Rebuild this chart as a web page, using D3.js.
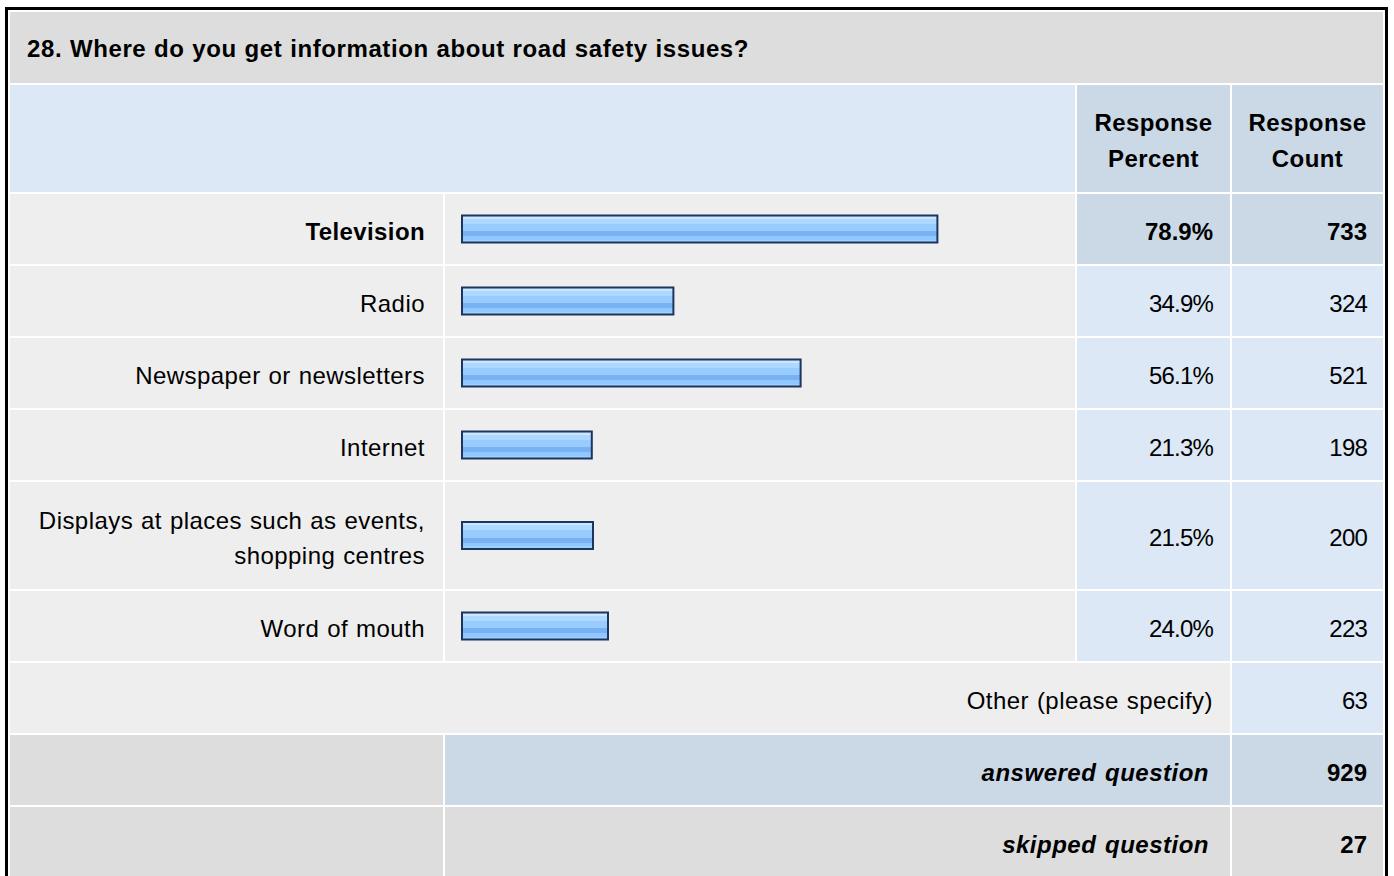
<!DOCTYPE html>
<html>
<head>
<meta charset="utf-8">
<script src="https://cdn.jsdelivr.net/npm/d3@7"></script>
<style>
  body { margin: 0; background: #fff; }
  svg { display: block; font-family: "Liberation Sans", Arial, sans-serif; }
</style>
</head>
<body>
<div id="chart"></div>
<script>
var width = 1394;
var height = 876;

var question = "28. Where do you get information about road safety issues?";
var answers = ["Television", "Radio", "Newspaper or newsletters", "Internet",
  "Displays at places such as events, shopping centres", "Word of mouth"];
var percents = [78.9, 34.9, 56.1, 21.3, 21.5, 24.0];
var counts = [733, 324, 521, 198, 200, 223];
var otherLabel = "Other (please specify)";
var otherCount = 63;
var answeredCount = 929;
var skippedCount = 27;

// column edges
var col = {
  label: [10, 443],
  bar: [445, 1075],
  pct: [1077, 1230],
  cnt: [1232, 1383]
};
var gap = 2;
var fs = 24;
var ls = 0.45;
var ws = 0.8;

var svg = d3.select("#chart").append("svg")
  .attr("width", width)
  .attr("height", height);

var defs = svg.append("defs");
var grad = defs.append("linearGradient")
  .attr("id", "barfill")
  .attr("x1", 0).attr("y1", 0).attr("x2", 0).attr("y2", 1);
[[0, "#cbe6ff"], [0.12, "#cbe6ff"], [0.12, "#aed8ff"], [0.3, "#aed8ff"],
 [0.3, "#98ccff"], [0.58, "#98ccff"], [0.58, "#78b2f2"], [0.76, "#78b2f2"],
 [0.76, "#8fc7ff"], [0.9, "#8fc7ff"], [0.9, "#9dd0ff"], [1, "#9dd0ff"]]
  .forEach(function(s) {
    grad.append("stop").attr("offset", s[0]).attr("stop-color", s[1]);
  });

var x = d3.scaleLinear().domain([0, 100]).range([0, 600]);

function cell(x0, x1, y, h, fill) {
  svg.append("rect")
    .attr("x", x0).attr("y", y)
    .attr("width", x1 - x0).attr("height", h)
    .attr("fill", fill);
}

function label(str, xPos, yMid, opts) {
  opts = opts || {};
  var lines = opts.lines || [str];
  var lh = opts.lh || 35;
  var off = opts.off != null ? opts.off : 10.5;
  var t = svg.append("text")
    .attr("x", xPos)
    .attr("text-anchor", opts.anchor || "end")
    .attr("font-size", fs)
    .attr("letter-spacing", opts.ls != null ? opts.ls : ls)
    .attr("word-spacing", opts.ws != null ? opts.ws : ws)
    .attr("font-weight", opts.bold ? "bold" : "normal")
    .attr("font-style", opts.italic ? "italic" : "normal")
    .attr("fill", "#000");
  lines.forEach(function(l, i) {
    t.append("tspan")
      .attr("x", xPos)
      .attr("y", yMid + off + (i - (lines.length - 1) / 2) * lh)
      .text(l);
  });
  return t;
}

// numbers: bold ones keep normal tracking, regular ones are a bit tighter
function num(str, xPos, yMid, bold) {
  return label(str, xPos, yMid, { bold: bold, ls: bold ? 0 : -0.8 });
}

// wrap long label into lines no wider than maxW
function wrapText(str, maxW) {
  var probe = svg.append("text").attr("font-size", fs)
    .attr("letter-spacing", ls).attr("word-spacing", ws);
  var words = str.split(" "), lines = [], cur = "";
  words.forEach(function(w) {
    var test = cur ? cur + " " + w : w;
    probe.text(test);
    if (probe.node().getComputedTextLength() > maxW && cur) {
      lines.push(cur);
      cur = w;
    } else {
      cur = test;
    }
  });
  lines.push(cur);
  probe.remove();
  return lines;
}

// outer frame
svg.append("rect")
  .attr("x", 6.5).attr("y", 8.5)
  .attr("width", 1380).attr("height", 900)
  .attr("fill", "none")
  .attr("stroke", "#000")
  .attr("stroke-width", 3);

var y = 12;

// title
cell(col.label[0], col.cnt[1], y, 71, "#dddddd");
label(question, 27, y + 35, { anchor: "start", bold: true, ls: 0.6, ws: 0.5, off: 10 });
y += 71 + gap;

// header
var hh = 107;
cell(col.label[0], col.bar[1], y, hh, "#dce8f5");
cell(col.pct[0], col.pct[1], y, hh, "#cbd8e6");
cell(col.cnt[0], col.cnt[1], y, hh, "#cbd8e6");
label("", (col.pct[0] + col.pct[1]) / 2, y + hh / 2,
  { anchor: "middle", bold: true, lines: ["Response", "Percent"], lh: 36, ls: 0.4 });
label("", (col.cnt[0] + col.cnt[1]) / 2, y + hh / 2,
  { anchor: "middle", bold: true, lines: ["Response", "Count"], lh: 36, ls: 0.4 });
y += hh + gap;

// answer rows
answers.forEach(function(a, i) {
  var lines = wrapText(a, 405);
  var h = lines.length > 1 ? 107 : 70;
  var first = i === 0;
  var mid = y + h / 2;
  cell(col.label[0], col.label[1], y, h, "#eeeeee");
  cell(col.bar[0], col.bar[1], y, h, "#eeeeee");
  cell(col.pct[0], col.pct[1], y, h, first ? "#cbd8e6" : "#dce8f5");
  cell(col.cnt[0], col.cnt[1], y, h, first ? "#cbd8e6" : "#dce8f5");
  label(a, col.label[1] - 18, mid,
    { bold: first, lines: lines, lh: 35, ls: first ? 0.4 : ls });
  svg.append("rect")
    .attr("x", col.bar[0] + 17)
    .attr("y", mid - 13.5)
    .attr("width", x(percents[i]) + 2)
    .attr("height", 27)
    .attr("fill", "url(#barfill)")
    .attr("stroke", "#1c355e")
    .attr("stroke-width", 2);
  num(percents[i].toFixed(1) + "%", col.pct[1] - 17, mid, first);
  num(String(counts[i]), col.cnt[1] - 16, mid, first);
  y += h + gap;
});

// other row
cell(col.label[0], col.pct[1], y, 70, "#eeeeee");
cell(col.cnt[0], col.cnt[1], y, 70, "#dce8f5");
label(otherLabel, col.pct[1] - 17, y + 35);
num(String(otherCount), col.cnt[1] - 16, y + 35, false);
y += 70 + gap;

// answered
cell(col.label[0], col.label[1], y, 70, "#dddddd");
cell(col.bar[0], col.pct[1], y, 70, "#cbd8e6");
cell(col.cnt[0], col.cnt[1], y, 70, "#cbd8e6");
label("answered question", col.pct[1] - 21, y + 35,
  { bold: true, italic: true, ls: 0.5, ws: 1.5 });
num(String(answeredCount), col.cnt[1] - 16, y + 35, true);
y += 70 + gap;

// skipped
cell(col.label[0], col.label[1], y, 70, "#dddddd");
cell(col.bar[0], col.pct[1], y, 70, "#dddddd");
cell(col.cnt[0], col.cnt[1], y, 70, "#dddddd");
label("skipped question", col.pct[1] - 21, y + 35,
  { bold: true, italic: true, ls: 0.5, ws: 1.5 });
num(String(skippedCount), col.cnt[1] - 16, y + 35, true);
</script>
</body>
</html>
